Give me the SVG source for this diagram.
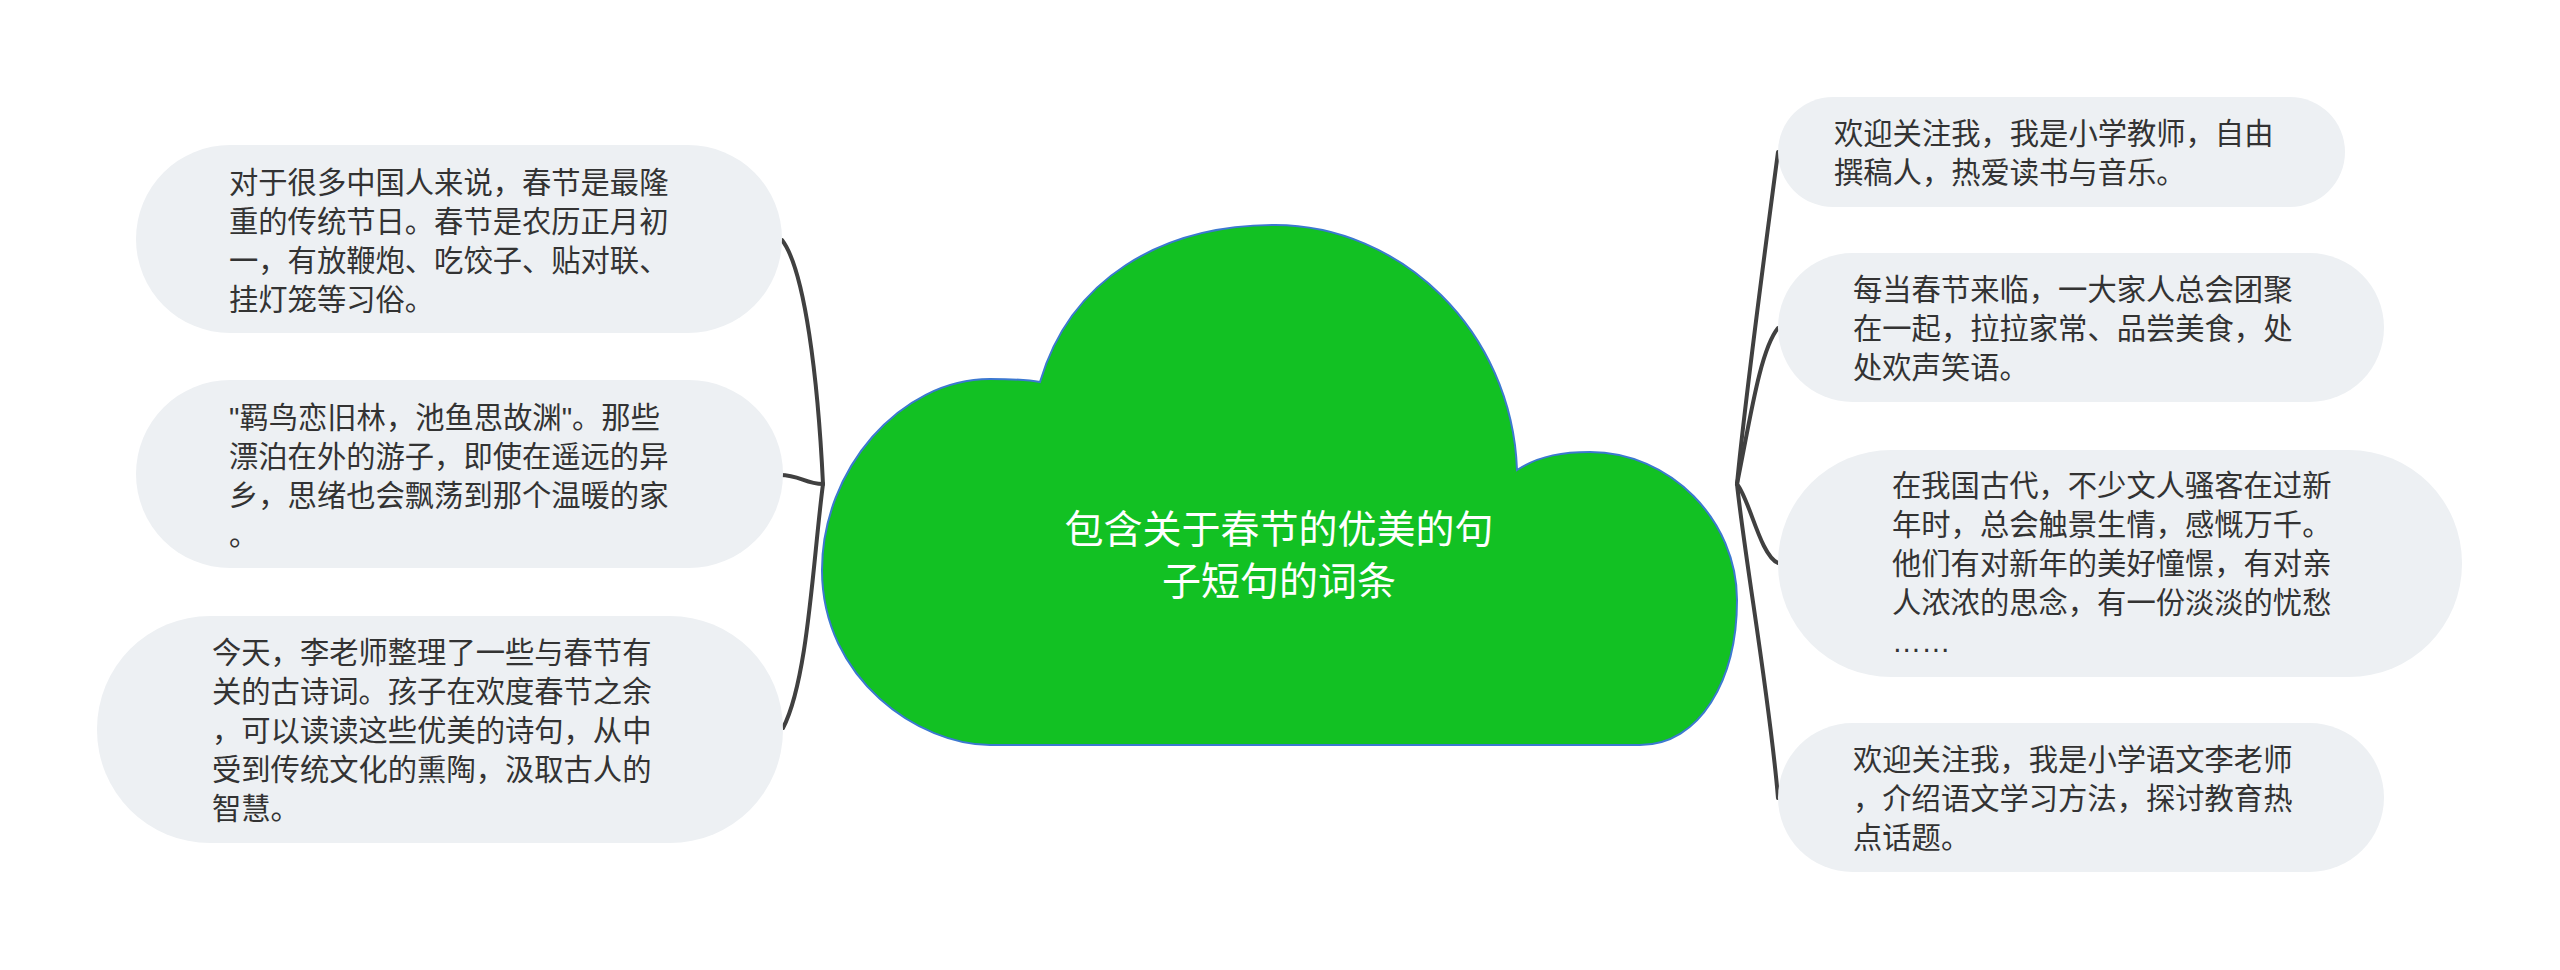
<svg xmlns="http://www.w3.org/2000/svg" width="2560" height="970" viewBox="0 0 2560 970">
<style>
.pill{fill:#edf0f3;}
.t{font-family:"Liberation Sans","Noto Sans CJK SC",sans-serif;font-size:29.3px;fill:#333333;}
.ct{font-family:"Liberation Sans","Noto Sans CJK SC",sans-serif;font-size:39px;fill:#ffffff;text-anchor:middle;}
.c{fill:none;stroke:#404040;stroke-width:4;stroke-linecap:round;}
</style>
<rect width="2560" height="970" fill="#ffffff"/>
<g id="connectors">
<path class="c" d="M 823 484 C 818 380, 805 270, 782 240"/>
<path class="c" d="M 823 484 C 805 484, 800 475, 780 475"/>
<path class="c" d="M 823 484 C 813 560, 808 680, 783 728"/>
<path class="c" d="M 1737 484 C 1745 400, 1765 250, 1778 152"/>
<path class="c" d="M 1737 484 C 1750 420, 1760 350, 1778 328"/>
<path class="c" d="M 1737 484 C 1750 500, 1760 555, 1778 563"/>
<path class="c" d="M 1737 484 C 1745 560, 1770 700, 1778 798"/>
</g>
<g id="center">
<path d="M 1040 382 C 1070 280, 1160 225, 1275 225 C 1400 225, 1512 330, 1517 470 C 1540 455, 1565 452, 1590 452 C 1670 452, 1737 520, 1737 600 C 1737 680, 1700 745, 1640 745 L 990 745 C 920 745, 822 680, 822 570 C 822 470, 900 379, 990 379 C 1015 379, 1030 380, 1040 382 Z" fill="#12c123" stroke="#3c78d0" stroke-width="2"/>
<text class="ct" x="1279" y="543">包含关于春节的优美的句</text>
<text class="ct" x="1279" y="595">子短句的词条</text>
</g>
<g id="L1">
<rect class="pill" x="136" y="145" width="646" height="188" rx="94"/>
<text class="t" x="229" y="193">对于很多中国人来说，春节是最隆</text>
<text class="t" x="229" y="232">重的传统节日。春节是农历正月初</text>
<text class="t" x="229" y="271">一，有放鞭炮、吃饺子、贴对联、</text>
<text class="t" x="229" y="310">挂灯笼等习俗。</text>
</g>
<g id="L2">
<rect class="pill" x="136" y="380" width="647" height="188" rx="94"/>
<text class="t" x="229" y="428">"羁鸟恋旧林，池鱼思故渊"。那些</text>
<text class="t" x="229" y="467">漂泊在外的游子，即使在遥远的异</text>
<text class="t" x="229" y="506">乡，思绪也会飘荡到那个温暖的家</text>
<text class="t" x="229" y="545">。</text>
</g>
<g id="L3">
<rect class="pill" x="97" y="616" width="686" height="227" rx="113"/>
<text class="t" x="212" y="663">今天，李老师整理了一些与春节有</text>
<text class="t" x="212" y="702">关的古诗词。孩子在欢度春节之余</text>
<text class="t" x="212" y="741">，可以读读这些优美的诗句，从中</text>
<text class="t" x="212" y="780">受到传统文化的熏陶，汲取古人的</text>
<text class="t" x="212" y="819">智慧。</text>
</g>
<g id="R1">
<rect class="pill" x="1778" y="97" width="567" height="110" rx="55"/>
<text class="t" x="1834" y="144">欢迎关注我，我是小学教师，自由</text>
<text class="t" x="1834" y="183">撰稿人，热爱读书与音乐。</text>
</g>
<g id="R2">
<rect class="pill" x="1778" y="253" width="606" height="149" rx="74.5"/>
<text class="t" x="1853" y="300">每当春节来临，一大家人总会团聚</text>
<text class="t" x="1853" y="339">在一起，拉拉家常、品尝美食，处</text>
<text class="t" x="1853" y="378">处欢声笑语。</text>
</g>
<g id="R3">
<rect class="pill" x="1778" y="450" width="684" height="227" rx="113"/>
<text class="t" x="1892" y="496">在我国古代，不少文人骚客在过新</text>
<text class="t" x="1892" y="535">年时，总会触景生情，感慨万千。</text>
<text class="t" x="1892" y="574">他们有对新年的美好憧憬，有对亲</text>
<text class="t" x="1892" y="613">人浓浓的思念，有一份淡淡的忧愁</text>
<text class="t" x="1892" y="652">……</text>
</g>
<g id="R4">
<rect class="pill" x="1778" y="723" width="606" height="149" rx="74.5"/>
<text class="t" x="1853" y="770">欢迎关注我，我是小学语文李老师</text>
<text class="t" x="1853" y="809">，介绍语文学习方法，探讨教育热</text>
<text class="t" x="1853" y="848">点话题。</text>
</g>
</svg>
